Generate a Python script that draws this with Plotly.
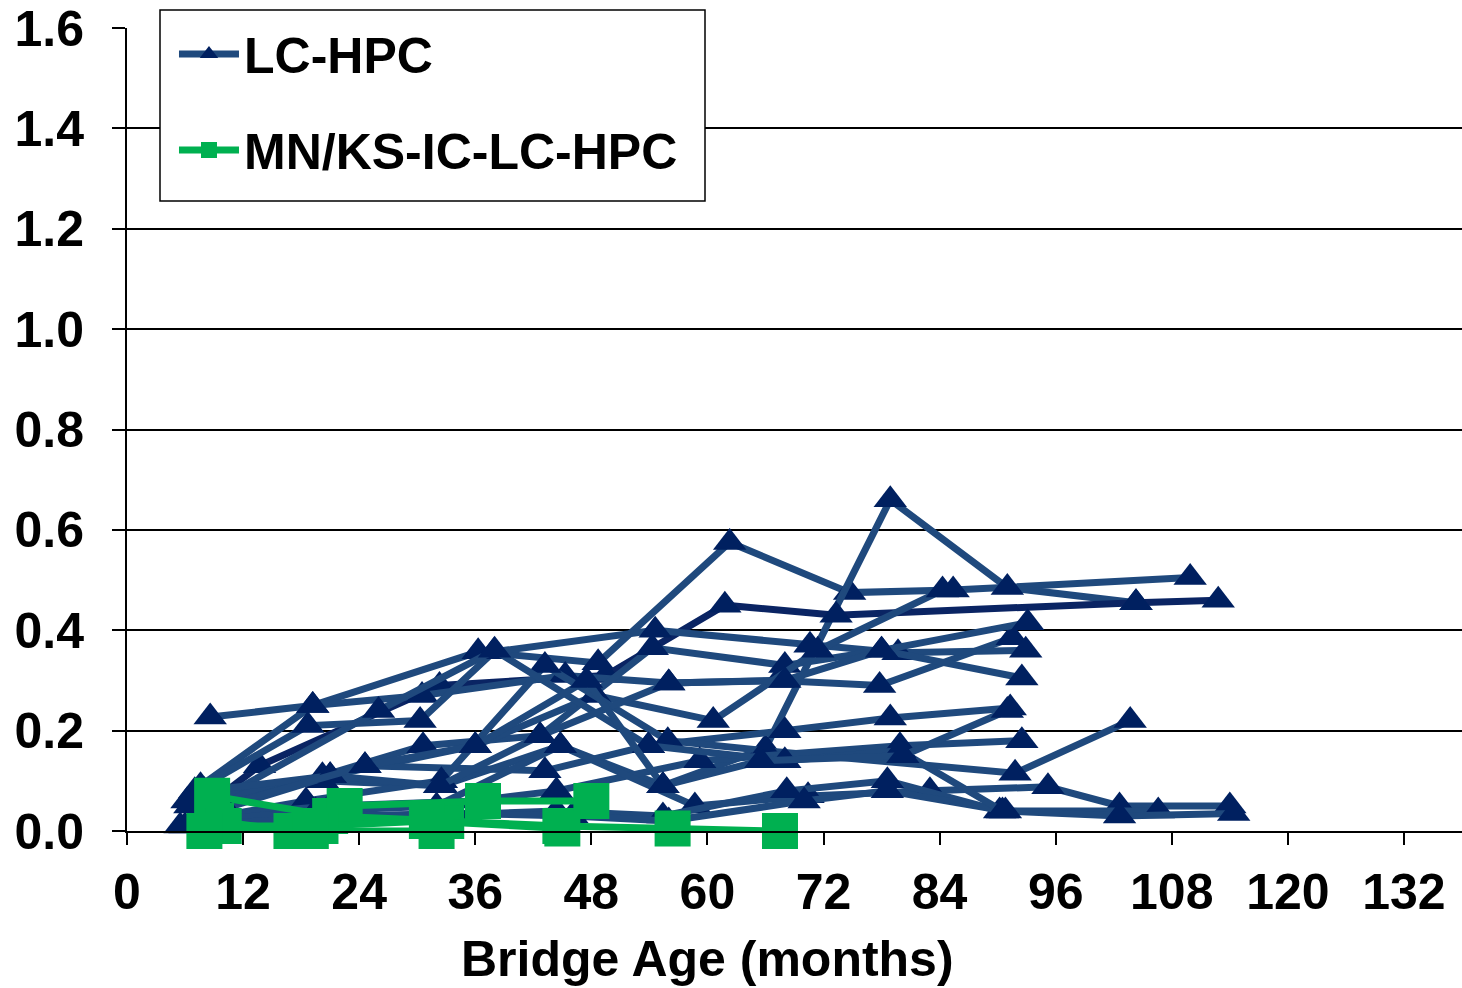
import plotly.graph_objects as go

# Crack density surveys, LC-HPC bridge decks: (bridge age in months, value) per deck
lc_hpc_ages = [
    [7.6, 19.2, 36.3, 48.7, 62.3, 74.7, 85.4, 109.9],
    [6.2, 20.2, 32.5, 44.8, 55.4, 66.0, 78.9, 91.0, 104.3],
    [5.5, 13.7, 32.3, 49.5, 61.8, 73.3, 104.3, 112.8],
    [8.6, 19.2, 30.5, 45.3, 56.0, 67.3, 77.8, 91.5],
    [7.0, 18.7, 30.3, 37.9, 54.6, 70.6, 79.7, 92.9],
    [6.5, 20.2, 30.6, 42.7, 54.3, 68.0, 78.0, 92.5],
    [7.6, 21.0, 36.0, 48.4, 60.6, 71.4, 84.3],
    [8.0, 24.6, 43.2, 53.9, 68.0, 78.9, 91.3],
    [6.8, 18.5, 32.5, 43.2, 55.9, 66.0, 91.8, 103.7],
    [9.0, 21.0, 36.0, 44.4, 59.2, 79.9, 92.5],
    [7.2, 19.5, 32.0, 44.8, 58.7, 70.4, 83.0, 95.2, 102.6, 114.0],
    [8.2, 20.0, 31.0, 44.4, 55.4, 68.2, 78.6, 90.2, 106.6],
    [6.0, 22.0, 34.0, 46.0, 56.0, 70.0, 78.6, 90.8, 102.6, 114.4],
    [9.2, 26.0, 38.0, 53.9, 68.0, 79.9, 90.5],
    [8.0, 21.0, 32.3, 42.7, 56.0, 68.0, 78.0, 93.1],
    [10.0, 24.6, 36.0, 47.5, 55.4, 65.5, 80.2, 91.0],
]
lc_hpc_values = [
    [0.09, 0.25, 0.357, 0.335, 0.575, 0.475, 0.48, 0.505],
    [0.06, 0.10, 0.09, 0.17, 0.09, 0.165, 0.66, 0.485, 0.455],
    [0.01, 0.13, 0.29, 0.31, 0.45, 0.43, 0.455, 0.46],
    [0.227, 0.25, 0.27, 0.31, 0.295, 0.30, 0.29, 0.385],
    [0.08, 0.21, 0.22, 0.357, 0.40, 0.37, 0.355, 0.36],
    [0.05, 0.11, 0.17, 0.19, 0.365, 0.33, 0.36, 0.305],
    [0.03, 0.11, 0.17, 0.27, 0.22, 0.36, 0.48],
    [0.04, 0.13, 0.12, 0.17, 0.20, 0.225, 0.245],
    [0.02, 0.06, 0.10, 0.33, 0.18, 0.16, 0.115, 0.22],
    [0.03, 0.05, 0.06, 0.08, 0.14, 0.17, 0.18],
    [0.02, 0.04, 0.05, 0.17, 0.05, 0.07, 0.08, 0.088, 0.05, 0.05],
    [0.015, 0.02, 0.03, 0.04, 0.03, 0.08, 0.10, 0.04, 0.04],
    [0.01, 0.03, 0.035, 0.03, 0.02, 0.06, 0.08, 0.04, 0.03, 0.035],
    [0.06, 0.24, 0.36, 0.17, 0.14, 0.16, 0.04],
    [0.08, 0.11, 0.09, 0.19, 0.295, 0.30, 0.36, 0.415],
    [0.05, 0.13, 0.17, 0.30, 0.09, 0.14, 0.15, 0.24],
]
lc_hpc_line_colors = ["#1F497D", "#1F497D", "#0A2463"] + ["#1F497D"] * 13

# MN/KS-IC-LC-HPC decks
ic_ages = [
    [8.8, 21.0, 33.0, 44.8, 56.4, 67.5],
    [9.2, 17.0, 22.5, 36.8, 48.0],
    [10.0, 20.0, 31.0, 45.0],
    [8.0, 19.0, 32.0],
]
ic_values = [
    [0.07, 0.03, 0.02, 0.01, 0.005, 0.0],
    [0.02, 0.0, 0.05, 0.06, 0.06],
    [0.01, 0.01, 0.02, 0.005],
    [0.0, 0.0, 0.0],
]

x_ticks = list(range(0, 133, 12))
y_ticks = [0.0, 0.2, 0.4, 0.6, 0.8, 1.0, 1.2, 1.4, 1.6]

BLUE_MARK = "#002060"
GREEN = "#00B050"
FONT = "Liberation Sans, Arial, sans-serif"

fig = go.Figure()

for i, (xs, ys) in enumerate(zip(lc_hpc_ages, lc_hpc_values)):
    fig.add_trace(go.Scatter(
        x=xs, y=ys, mode="lines+markers", name="LC-HPC\u00a0",
        legendgroup="lc", showlegend=(i == 0),
        line=dict(color=lc_hpc_line_colors[i], width=7),
        marker=dict(symbol="triangle-up", size=29, color=BLUE_MARK),
        cliponaxis=False,
    ))

for i, (xs, ys) in enumerate(zip(ic_ages, ic_values)):
    fig.add_trace(go.Scatter(
        x=xs, y=ys, mode="lines+markers", name="MN/KS-IC-LC-HPC\u00a0",
        legendgroup="ic", showlegend=(i == 0),
        line=dict(color=GREEN, width=7),
        marker=dict(symbol="square", size=36, color=GREEN),
        cliponaxis=False,
    ))

# legend frame (white box with black border)
fig.add_shape(
    type="rect", xref="paper", yref="paper",
    x0=0.02472, x1=0.43296, y0=0.78456, y1=1.02242,
    fillcolor="white", line=dict(color="black", width=1.5), layer="above",
)

# x-axis title
fig.add_annotation(
    text="Bridge Age (months)", xref="paper", yref="paper",
    x=0.4345, y=-0.159, xanchor="center", yanchor="middle",
    showarrow=False, font=dict(family=FONT, size=50, color="black", weight="bold"),
)

fig.update_layout(
    width=1462, height=988,
    margin=dict(l=127, r=0, t=28, b=157),
    plot_bgcolor="white", paper_bgcolor="white",
    font=dict(family=FONT, size=50, color="black", weight="bold"),
    showlegend=True,
    legend=dict(
        x=0.0352, y=1.0162, xanchor="left", yanchor="top",
        bgcolor="rgba(0,0,0,0)", borderwidth=0,
        font=dict(family=FONT, size=50, color="black", weight="bold"),
        itemwidth=60, tracegroupgap=28,
    ),
    xaxis=dict(
        range=[0, 138], tickmode="array", tickvals=x_ticks,
        ticks="outside", ticklen=12, tickwidth=2, tickcolor="black",
        showline=True, linecolor="black", linewidth=2,
        showgrid=False, zeroline=False,
        tickfont=dict(size=50),
        ticklabelstandoff=4,
    ),
    yaxis=dict(
        range=[0, 1.6], tickmode="array", tickvals=y_ticks,
        tickformat=".1f",
        ticks="outside", ticklen=13, tickwidth=2, tickcolor="black",
        showline=True, linecolor="black", linewidth=2,
        showgrid=True, gridcolor="black", gridwidth=2,
        zeroline=False,
        tickfont=dict(size=50),
        ticklabelstandoff=18,
    ),
)

fig.write_html("out.html")
